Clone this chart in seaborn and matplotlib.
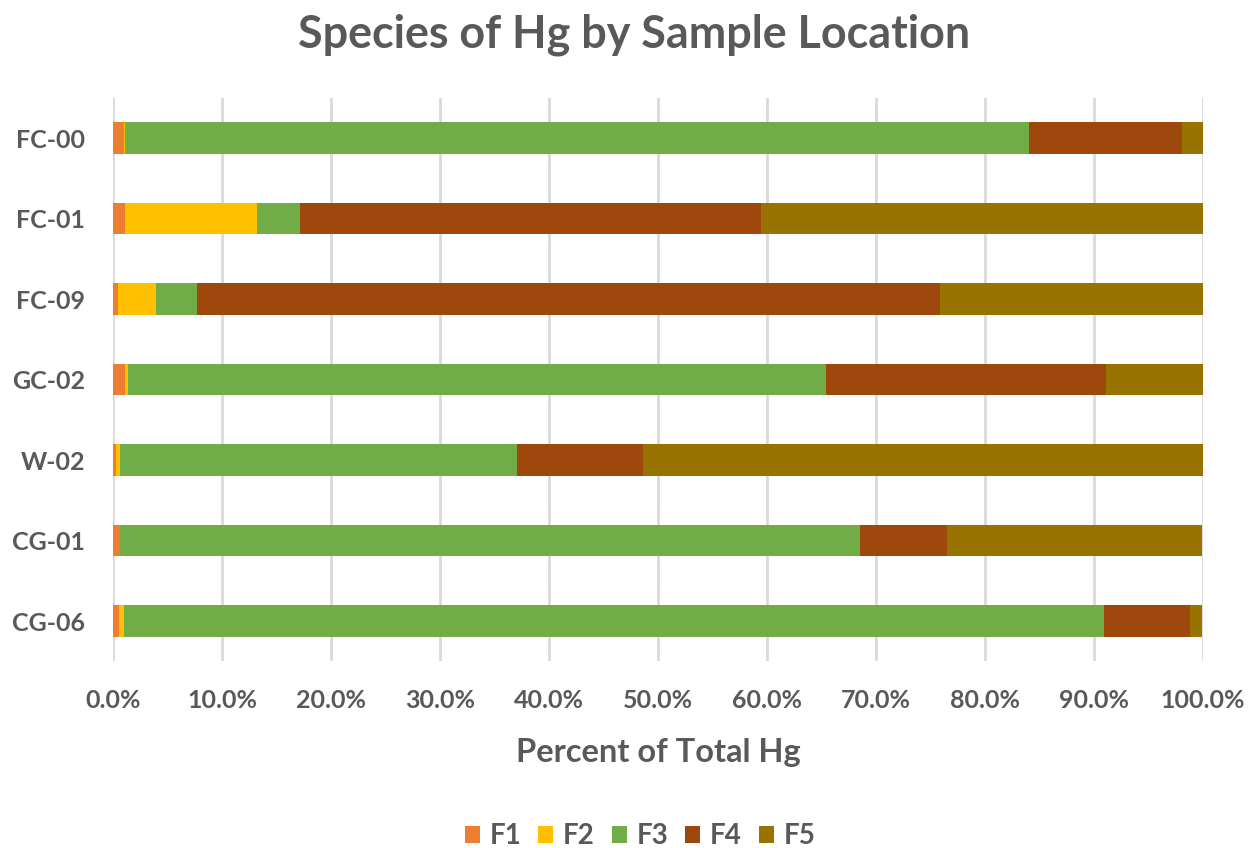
import matplotlib
matplotlib.use("Agg")
import matplotlib.pyplot as plt
from matplotlib.patches import Patch
import numpy as np
import pandas as pd
import seaborn as sns

# Share of total Hg (%) in each extraction fraction, per sample location
locations = ["FC-00", "FC-01", "FC-09", "GC-02", "W-02", "CG-01", "CG-06"]
f1 = [1.0, 1.1, 0.4, 1.1, 0.25, 0.6, 0.5]
f2 = [0.1, 12.1, 3.5, 0.3, 0.35, 0.05, 0.5]
f3 = [83.0, 3.9, 3.8, 64.0, 36.5, 67.85, 89.9]
f4 = [14.0, 42.4, 68.2, 25.7, 11.5, 8.0, 7.9]
f5 = [1.9, 40.5, 24.1, 8.9, 51.4, 23.4, 1.1]
fractions = ["F1", "F2", "F3", "F4", "F5"]
colors = ["#ED7D31", "#FFC000", "#70AD47", "#9E480E", "#997300"]

TEXT = "#595959"
GRID = "#D9D9D9"

sns.set_theme(style="white")
plt.rcParams["font.family"] = ["Lato", "DejaVu Sans"]
plt.rcParams["font.weight"] = "bold"

df = pd.DataFrame({"location": locations, "F1": f1, "F2": f2,
                   "F3": f3, "F4": f4, "F5": f5})
cum = df[fractions].cumsum(axis=1)

fig = plt.figure(figsize=(12.54, 8.48), dpi=100)
ax = fig.add_axes([0.0903, 0.2202, 0.8688, 0.6645])

# Stacked bars: draw cumulative totals from the outermost fraction inward
for name, col in reversed(list(zip(fractions, colors))):
    sns.barplot(x=cum[name], y=df["location"], orient="h", color=col,
                width=0.39, saturation=1, linewidth=0, ax=ax, zorder=3)

ax.set_xlim(0, 100)
ax.set_xticks(np.arange(0, 101, 10))
ax.set_xticklabels([f"{v:.1f}%" for v in np.arange(0, 101, 10)])
ax.xaxis.grid(True, color=GRID, linewidth=2, zorder=0)
ax.yaxis.grid(False)
for s in ax.spines.values():
    s.set_visible(False)
ax.tick_params(axis="both", length=0, labelsize=18, labelcolor=TEXT)
ax.tick_params(axis="x", pad=20)
ax.tick_params(axis="y", pad=20)
for lbl in ax.get_xticklabels() + ax.get_yticklabels():
    lbl.set_fontweight("bold")

ax.set_ylabel("")
ax.set_xlabel("Percent of Total Hg", fontsize=23.5, color=TEXT,
              fontweight="bold", labelpad=19)

fig.text(0.5055, 1 - 47 / 848, "Species of Hg by Sample Location",
         ha="center", va="baseline", fontsize=32.3, color=TEXT,
         fontweight="bold")

handles = [Patch(facecolor=c, edgecolor="none", label=f)
           for f, c in zip(fractions, colors)]
fig.legend(handles=handles, loc="center", ncol=5,
           bbox_to_anchor=(640 / 1254, 1 - 836 / 848), frameon=False,
           prop={"size": 20, "weight": "bold"}, labelcolor=TEXT,
           handlelength=0.55, handleheight=0.55, handletextpad=0.35,
           columnspacing=0.6, borderpad=0)

fig.savefig("out.png", dpi=100, facecolor="white")
